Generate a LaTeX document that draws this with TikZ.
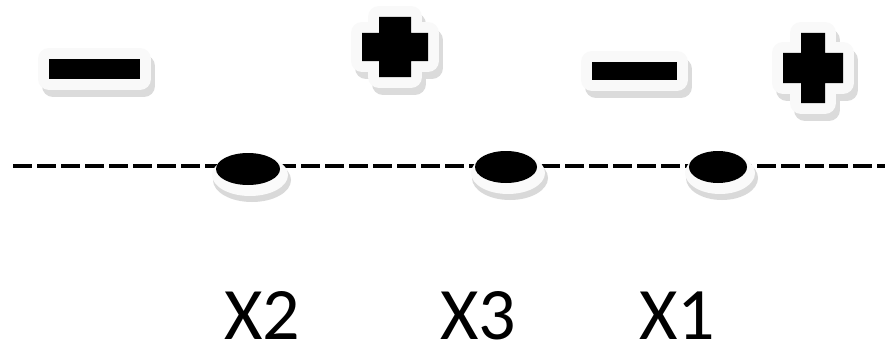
\documentclass[tikz,border=0pt]{standalone}
\usepackage{fontspec}
\setmainfont{Carlito}
\usetikzlibrary{shapes.geometric}

\begin{document}
\begin{tikzpicture}[x=1pt,y=-1pt,
  axis line/.style={line width=4.5pt,dash pattern=on 19pt off 5pt},
  dot/.style={ellipse,fill=black,inner sep=0pt,minimum height=32pt},
  sign shadow/.style={fill=gray!28,draw=gray!28,line width=22pt,line join=round},
  sign halo/.style={fill=gray!5,draw=gray!5,line width=22pt,line join=round},
  lbl/.style={anchor=base,inner sep=0pt,font=\fontsize{74}{80}\selectfont}]
\useasboundingbox[fill=white] (0,0) rectangle (885,345);

% dashed line
\coordinate (lstart) at (13,166);
\coordinate (lend) at (885,166);
\draw[axis line] (lstart) -- (lend);

% signs: minus bars
\foreach \ax/\ay/\bx/\by in {49/59/140/79, 592/62/677/80}{
  \path[sign shadow] (\ax+4,\ay+7) rectangle (\bx+4,\by+7);
  \path[sign halo] (\ax,\ay) rectangle (\bx,\by);
  \path[fill=black] (\ax,\ay) rectangle (\bx,\by);
}
% signs: plus (centre, half sizes of arms)
\foreach \cx/\cy/\hw/\hh/\vw/\vh in {395/47/33/14/16/30, 813/68/30/15/12/35}{
  \path[sign shadow] (\cx-\hw+4,\cy-\hh+7) rectangle (\cx+\hw+4,\cy+\hh+7)
                     (\cx-\vw+4,\cy-\vh+7) rectangle (\cx+\vw+4,\cy+\vh+7);
  \path[sign halo] (\cx-\hw,\cy-\hh) rectangle (\cx+\hw,\cy+\hh)
                   (\cx-\vw,\cy-\vh) rectangle (\cx+\vw,\cy+\vh);
  \path[fill=black] (\cx-\hw,\cy-\hh) rectangle (\cx+\hw,\cy+\hh)
                    (\cx-\vw,\cy-\vh) rectangle (\cx+\vw,\cy+\vh);
}

% points on the line
\foreach \n/\cx/\cy/\w in {x2/248/169/64, x3/506/167/62, x1/718/167/58}{
  \fill[gray!30] (\cx+4,\cy+11) ellipse ({\w/2+7pt} and 22pt);
  \fill[gray!4] (\cx+2,\cy+6) ellipse ({\w/2+6pt} and 21pt);
  \node[dot,minimum width=\w pt] (d\n) at (\cx,\cy) {};
}

% labels
\node[lbl] (lx2) at (262,339) {X2};
\node[lbl] (lx3) at (478,339) {X3};
\node[lbl] (lx1) at (677,339) {X1};
\end{tikzpicture}
\end{document}
